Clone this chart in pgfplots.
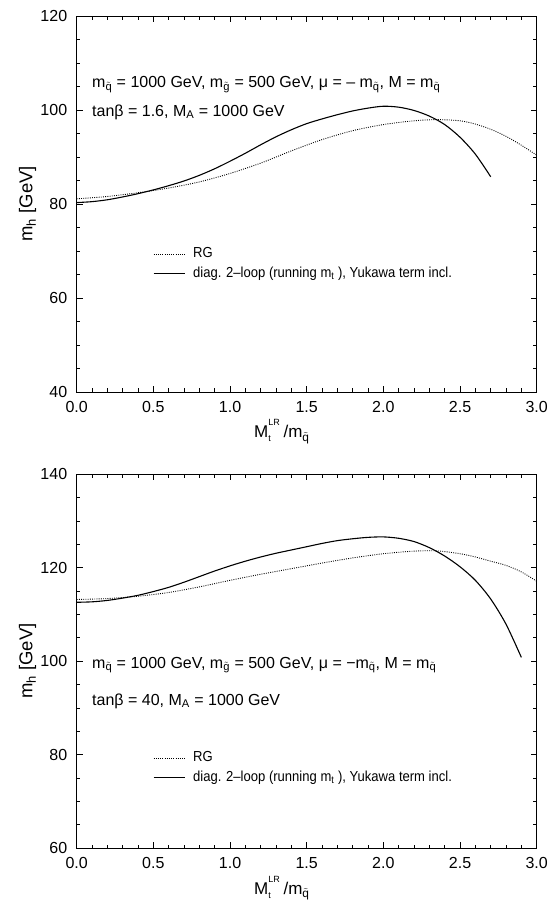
\documentclass[border=0pt]{standalone}
\usepackage{fontspec}
\setmainfont{Liberation Sans}
\newfontfamily\legfont{Liberation Sans}[FakeStretch=0.9]
\usepackage{amsmath}
\usepackage{pgfplots}
\pgfplotsset{compat=1.18}
\newcommand{\sq}{$_{\tilde{\text{q}}}$}
\newcommand{\sg}{$_{\tilde{\text{g}}}$}
\newcommand{\xlab}{M\rlap{\raisebox{12pt}{\fontsize{9}{10}\selectfont LR}}\raisebox{-4pt}{\fontsize{9}{10}\selectfont t}\hspace{8pt} /m\sq}
\pgfplotsset{
  myaxis/.style={
    scale only axis, width=460pt,
    xmin=0, xmax=3,
    xtick={0,0.5,1,1.5,2,2.5,3},
    xticklabels={0.0,0.5,1.0,1.5,2.0,2.5,3.0},
    minor x tick num=4, minor y tick num=3,
    tick align=inside, major tick length=6pt, minor tick length=3.5pt,
    axis line style={line width=0.9pt},
    every tick/.style={black, line width=0.7pt},
    tick label style={font=\fontsize{16}{19}\selectfont},
    /pgf/number format/assume math mode=true,
    yticklabel style={xshift=-6pt},
    xticklabel style={yshift=-5.5pt},
    label style={font=\fontsize{17}{20}\selectfont},
    xlabel={\xlab},
    xlabel style={at={(axis description cs:0.3854,0)}, anchor=base west, yshift=-46pt, inner sep=0pt},
    ylabel={m$_{\text{h}}$ [GeV]},
    ylabel style={at={(axis description cs:-0.0961,0.5)}, anchor=base, inner sep=0pt, font=\fontsize{18.5}{21}\selectfont},
    legend cell align=left,
    legend image code/.code={\draw[##1] (0pt,0pt) -- (31pt,0pt);},
    legend style={draw=none, fill=none, inner sep=0pt, outer sep=0pt,
      anchor=north west, column sep=8pt, row sep=6.7pt,
      nodes={inner sep=0pt, text height=10pt, text depth=3pt, font=\legfont\fontsize{14.5}{16}\selectfont}},
  },
  rg/.style={black, line width=0.9pt, dash pattern=on 0.9pt off 1.3pt, smooth},
  dl/.style={black, line width=1.1pt, smooth},
}
\begin{document}
\begin{tikzpicture}
\path[use as bounding box] (-76.7pt,-59pt) rectangle (475.3pt,848pt);
% ---------------- top panel ----------------
\begin{axis}[myaxis, at={(0pt,456pt)}, anchor=south west, height=376pt,
  ymin=40, ymax=120, ytick={40,60,80,100,120},
  legend style={at={(axis description cs:0.1659,0.3843)}}]
\addplot[rg] coordinates {(0,81.1) (0.2,81.6) (0.4,82.4) (0.6,83.4) (0.8,84.7) (1.0,86.5) (1.2,88.7) (1.4,91.3) (1.6,93.7) (1.8,95.6) (2.0,96.9) (2.2,97.7) (2.35,97.95) (2.5,97.7) (2.6,97.0) (2.7,95.9) (2.8,94.4) (2.9,92.5) (3.0,90.4)};
\addlegendentry{RG}
\addplot[dl] coordinates {(0,80.3) (0.1,80.5) (0.2,80.9) (0.3,81.5) (0.4,82.2) (0.5,83.0) (0.6,83.9) (0.7,84.9) (0.8,86.1) (0.9,87.5) (1.0,89.1) (1.1,90.8) (1.2,92.6) (1.3,94.3) (1.4,95.8) (1.5,97.1) (1.6,98.1) (1.7,99.0) (1.8,99.8) (1.9,100.4) (2.0,100.8) (2.1,100.6) (2.2,99.9) (2.3,98.7) (2.4,96.9) (2.5,94.2) (2.6,90.6) (2.7,85.8)};
\addlegendentry{diag. 2–loop (running m\textsubscript{t} ), Yukawa term incl.}
\node[anchor=base west, font=\fontsize{16}{19}\selectfont, inner sep=0pt] at (axis cs:0.1,104.7)
  {m\sq{} = 1000 GeV, m\sg{} = 500 GeV, μ = – m\sq, M = m\sq};
\node[anchor=base west, font=\fontsize{16}{19}\selectfont, inner sep=0pt] at (axis cs:0.1,98.7)
  {tanβ = 1.6, M$_{\text{A}}$ = 1000 GeV};
\end{axis}
% ---------------- bottom panel ----------------
\begin{axis}[myaxis, at={(0pt,0pt)}, anchor=south west, height=373.7pt,
  ymin=60, ymax=140, ytick={60,80,100,120,140},
  legend style={at={(axis description cs:0.1659,0.2582)}}]
\addplot[rg] coordinates {(0,113.2) (0.2,113.4) (0.4,113.9) (0.6,114.7) (0.8,115.9) (1.0,117.3) (1.2,118.6) (1.4,119.8) (1.6,121.0) (1.8,122.1) (2.0,123.0) (2.2,123.55) (2.35,123.6) (2.5,123.0) (2.6,122.3) (2.7,121.4) (2.8,120.5) (2.9,119.1) (3.0,117.1)};
\addlegendentry{RG}
\addplot[dl] coordinates {(0,112.6) (0.1,112.7) (0.2,113.0) (0.3,113.5) (0.4,114.1) (0.5,114.9) (0.6,115.8) (0.7,116.9) (0.8,118.1) (0.9,119.3) (1.0,120.4) (1.1,121.4) (1.2,122.3) (1.3,123.1) (1.4,123.8) (1.5,124.5) (1.6,125.2) (1.7,125.8) (1.8,126.2) (1.9,126.5) (2.0,126.6) (2.1,126.3) (2.2,125.6) (2.3,124.3) (2.4,122.5) (2.5,120.2) (2.6,117.3) (2.7,113.3) (2.8,107.9) (2.9,100.8)};
\addlegendentry{diag. 2–loop (running m\textsubscript{t} ), Yukawa term incl.}
\node[anchor=base west, font=\fontsize{16}{19}\selectfont, inner sep=0pt] at (axis cs:0.1,98.5)
  {m\sq{} = 1000 GeV, m\sg{} = 500 GeV, μ = −m\sq, M = m\sq};
\node[anchor=base west, font=\fontsize{16}{19}\selectfont, inner sep=0pt] at (axis cs:0.1,90.6)
  {tanβ = 40, M$_{\text{A}}$ = 1000 GeV};
\end{axis}
\end{tikzpicture}
\end{document}
